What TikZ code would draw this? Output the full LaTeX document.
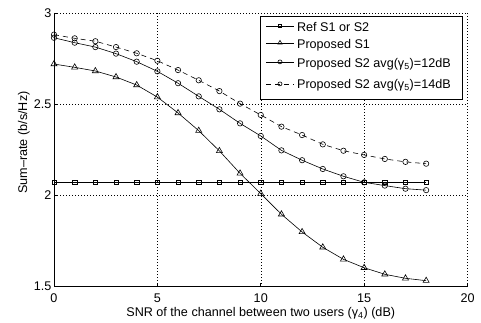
\documentclass[tikz,border=0pt]{standalone}
\usepackage{fontspec}
\setmainfont{Liberation Sans}
\usepackage{xcolor}
\usepackage{tikz}
\usetikzlibrary{shapes.geometric}

\begin{document}
\begin{tikzpicture}[x=20.675pt, y=182.5pt,
    every node/.style={font=\fontsize{12.6pt}{15pt}\selectfont},
    axisline/.style={line width=0.8pt},
    gridline/.style={line width=0.45pt, dash pattern=on 0.6pt off 2.4pt},
    curve/.style={line width=0.6pt},
    dashcurve/.style={line width=0.6pt, dash pattern=on 5pt off 4pt},
    sqmark/.style={draw, rectangle, line width=0.6pt, minimum size=4.4pt, inner sep=0pt},
    trimark/.style={draw, regular polygon, regular polygon sides=3, line width=0.6pt, minimum size=7pt, inner sep=0pt},
    circmark/.style={draw, circle, line width=0.6pt, minimum size=5.4pt, inner sep=0pt},
    legbox/.style={draw, rectangle, fill=white, line width=0.8pt, inner sep=0pt}]

    % picture frame
    \useasboundingbox (0,1.5) ++(-54pt,-35.3pt) rectangle ++(481pt,322pt);

    % grid
    \foreach \xv in {5,10,15,20}
        \draw[gridline] (\xv,1.5) -- (\xv,3);
    \foreach \yv in {2,2.5,3}
        \draw[gridline] (0,\yv) -- (20,\yv);

    % axes and ticks
    \draw[axisline] (0,3) -- (0,1.5) -- (20,1.5);
    \foreach \xv in {0,5,10,15,20} {
        \draw[axisline] (\xv,1.5) -- ++(0,4pt);
        \node[anchor=north, inner sep=0pt] (xt\xv) at ([yshift=-6.5pt]\xv,1.5) {\xv};
    }
    \foreach \yv in {1.5,2,2.5,3} {
        \draw[axisline] (0,\yv) -- ++(4pt,0);
        \node[anchor=east, inner sep=0pt] (yt\yv) at ([xshift=-2.5pt]0,\yv) {\yv};
    }

    % axis labels
    \node[anchor=base, inner sep=0pt] (xlabel) at ([yshift=-30pt]10,1.5)
        {SNR of the channel between two users (γ\textsubscript{4}) (dB)};
    \node[anchor=base, rotate=90, inner sep=0pt] (ylabel) at ([xshift=-27pt]0,2.29)
        {Sum–rate (b/s/Hz)};

    % Ref S1 or S2
    \draw[curve] (0,2.072) -- (18,2.072);
    \foreach \i in {0,...,18}
        \node[sqmark] (ref\i) at (\i,2.072) {};

    % Proposed S1
    \foreach \yv [count=\i from 0] in {2.720,2.702,2.682,2.649,2.605,2.539,2.452,2.355,2.244,2.121,
                                       2.010,1.897,1.800,1.716,1.650,1.604,1.568,1.546,1.533}
        \coordinate (s1-\i) at (\i,\yv);
    \draw[curve] (s1-0) \foreach \i in {1,...,18} {-- (s1-\i)};
    \foreach \i in {0,...,18}
        \node[trimark] (s1m\i) at (s1-\i) {};

    % Proposed S2, 12dB
    \foreach \yv [count=\i from 0] in {2.864,2.837,2.813,2.777,2.733,2.680,2.615,2.543,2.472,2.395,
                                       2.326,2.247,2.193,2.145,2.105,2.072,2.054,2.037,2.029}
        \coordinate (sa-\i) at (\i,\yv);
    \draw[curve] (sa-0) \foreach \i in {1,...,18} {-- (sa-\i)};
    \foreach \i in {0,...,18}
        \node[circmark] (sam\i) at (sa-\i) {};

    % Proposed S2, 14dB
    \foreach \yv [count=\i from 0] in {2.881,2.861,2.845,2.813,2.779,2.738,2.687,2.631,2.572,2.503,
                                       2.441,2.377,2.331,2.280,2.245,2.222,2.200,2.184,2.174}
        \coordinate (sb-\i) at (\i,\yv);
    \draw[dashcurve] (sb-0) \foreach \i in {1,...,18} {-- (sb-\i)};
    \foreach \i in {0,...,18}
        \node[circmark] (sbm\i) at (sb-\i) {};

    % legend
    \node[legbox, minimum width=202pt, minimum height=83pt] (legend) at (14.85,2.756) {};

    \draw[curve] ([shift={(6.7pt,-10.7pt)}]legend.north west) coordinate (la) -- ++(27.3pt,0) coordinate (lb);
    \node[sqmark, minimum size=3pt] (lm1) at ([xshift=13.65pt]la) {};
    \node[anchor=base west, inner sep=0pt] (lt1) at ([shift={(37.3pt,-15.7pt)}]legend.north west) {Ref S1 or S2};

    \draw[curve] ([shift={(6.7pt,-27.3pt)}]legend.north west) coordinate (lc) -- ++(27.3pt,0);
    \node[trimark, minimum size=5pt] (lm2) at ([xshift=13.65pt]lc) {};
    \node[anchor=base west, inner sep=0pt] (lt2) at ([shift={(37.3pt,-33pt)}]legend.north west) {Proposed S1};

    \draw[curve] ([shift={(6.7pt,-46.3pt)}]legend.north west) coordinate (ld) -- ++(27.3pt,0);
    \node[circmark, minimum size=4pt] (lm3) at ([xshift=13.65pt]ld) {};
    \node[anchor=base west, inner sep=0pt] (lt3) at ([shift={(37.3pt,-51.7pt)}]legend.north west)
        {Proposed S2 avg(γ\textsubscript{5})=12dB};

    \draw[dashcurve] ([shift={(6.7pt,-68.3pt)}]legend.north west) coordinate (le) -- ++(27.3pt,0);
    \node[circmark, minimum size=4pt] (lm4) at ([xshift=13.65pt]le) {};
    \node[anchor=base west, inner sep=0pt] (lt4) at ([shift={(37.3pt,-73pt)}]legend.north west)
        {Proposed S2 avg(γ\textsubscript{5})=14dB};
\end{tikzpicture}
\end{document}
